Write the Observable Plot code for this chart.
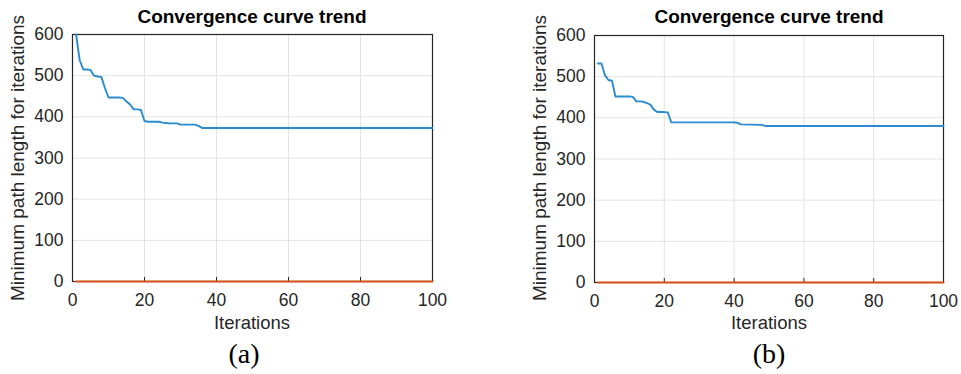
<!DOCTYPE html>
<html>
<head>
<meta charset="utf-8">
<script src="https://cdn.jsdelivr.net/npm/d3@7"></script>
<script src="https://cdn.jsdelivr.net/npm/@observablehq/plot@0.6"></script>
<style>
  html, body { margin: 0; padding: 0; background: #fff; }
  #wrap { position: relative; width: 961px; height: 374px; overflow: hidden; font-family: "Liberation Sans", Arial, sans-serif; color: #262626; }
  .panel { position: absolute; top: 0; }
  .lbl { position: absolute; transform: translate(-50%, -50%); white-space: nowrap; }
  .title { font-weight: bold; font-size: 19px; color: #000; }
  .xl { font-size: 18.5px; color: #262626; }
  .yl { font-size: 19px; color: #262626; transform: translate(-50%, -50%) rotate(-90deg); }
  .cap { font-family: "Liberation Serif", "Times New Roman", serif; font-size: 28px; color: #000; }
</style>
</head>
<body>
<div id="wrap"></div>
<script>
// ---- data ----
const titleText = "Convergence curve trend";
const xLabel = "Iterations";
const yLabel = "Minimum path length for iterations";
const captions = ["(a)", "(b)"];
const xTicks = [0, 20, 40, 60, 80, 100];
const yTicks = [0, 100, 200, 300, 400, 500, 600];

const itersA = [1,2,3,4,5,6,7,8,9,10,11,12,13,14,15,16,17,18,19,20,21,22,23,24,25,26,27,28,29,30,31,32,33,34,35,36,100];
const lenA   = [600,537,515,515,514,500,498,497,470,447,447,447,447,446,437,430,418,418,417,390,388,388,388,388,386,385,384,384,384,381,381,381,381,381,378,373,373];

const itersB = [1,2,3,4,5,6,7,8,9,10,11,12,13,14,15,16,17,18,19,20,21,22,40,41,42,48,49,100];
const lenB   = [532,532,503,492,490,452,452,452,452,452,451,440,440,439,436,432,420,414,414,414,413,389,389,388,384,383,380,380];

const zeroIters = [1, 100];
const zeroVals = [0, 0];

const blue = "#2a8bd0";
const orange = "#d95319";

function panel(iters, lens, opts) {
  const line = iters.map((x, i) => ({x, y: lens[i]}));
  const zero = zeroIters.map((x, i) => ({x, y: zeroVals[i]}));
  const yMin = yTicks[0];
  return Plot.plot({
    width: opts.width,
    height: 312,
    marginLeft: opts.ml,
    marginRight: opts.mr,
    marginTop: opts.mt,
    marginBottom: 312 - opts.mb,
    style: {fontFamily: '"Liberation Sans", Arial, sans-serif', fontSize: "17.5px", color: "#262626", background: "white", overflow: "visible"},
    x: {domain: [0, 100]},
    y: {domain: [0, 600]},
    marks: [
      Plot.ruleX(xTicks, {stroke: "#e3e3e3", strokeWidth: 1}),
      Plot.ruleY(yTicks, {stroke: "#e3e3e3", strokeWidth: 1}),
      Plot.axisX(xTicks, {tickSize: 0, tickPadding: 12, label: null, fontSize: 17.5}),
      Plot.axisY(yTicks, {tickSize: 0, tickPadding: 9, label: null, fontSize: 17.5}),
      Plot.ruleX(xTicks, {x: d => d, y1: yMin, y2: yMin, insetTop: -4, stroke: "#262626", strokeWidth: 1}),
      Plot.frame({stroke: "#262626", strokeWidth: 1.2}),
      Plot.line(zero, {x: "x", y: "y", stroke: orange, strokeWidth: 2}),
      Plot.line(line, {x: "x", y: "y", stroke: blue, strokeWidth: 1.9})
    ]
  });
}

const wrap = document.getElementById("wrap");
const confs = [
  {left: 0, width: 480, ml: 72, mr: 48, mt: 34, mb: 281, data: [itersA, lenA], tx: 252, ylx: 18, capx: 244},
  {left: 480, width: 481, ml: 114, mr: 18, mt: 35, mb: 282, data: [itersB, lenB], tx: 769, ylx: 540, capx: 769}
];
confs.forEach((c, k) => {
  const div = document.createElement("div");
  div.className = "panel";
  div.style.left = c.left + "px";
  const svg = panel(c.data[0], c.data[1], c);
  div.appendChild(svg);
  wrap.appendChild(div);
  const add = (cls, text, x, y) => {
    const e = document.createElement("div");
    e.className = "lbl " + cls;
    e.textContent = text;
    e.style.left = x + "px";
    e.style.top = y + "px";
    wrap.appendChild(e);
  };
  add("title", titleText, c.tx, 17);
  add("xl", xLabel, c.tx, 323);
  add("yl", yLabel, c.ylx, 158);
  add("cap", captions[k], c.capx, 354);
});
</script>
</body>
</html>
